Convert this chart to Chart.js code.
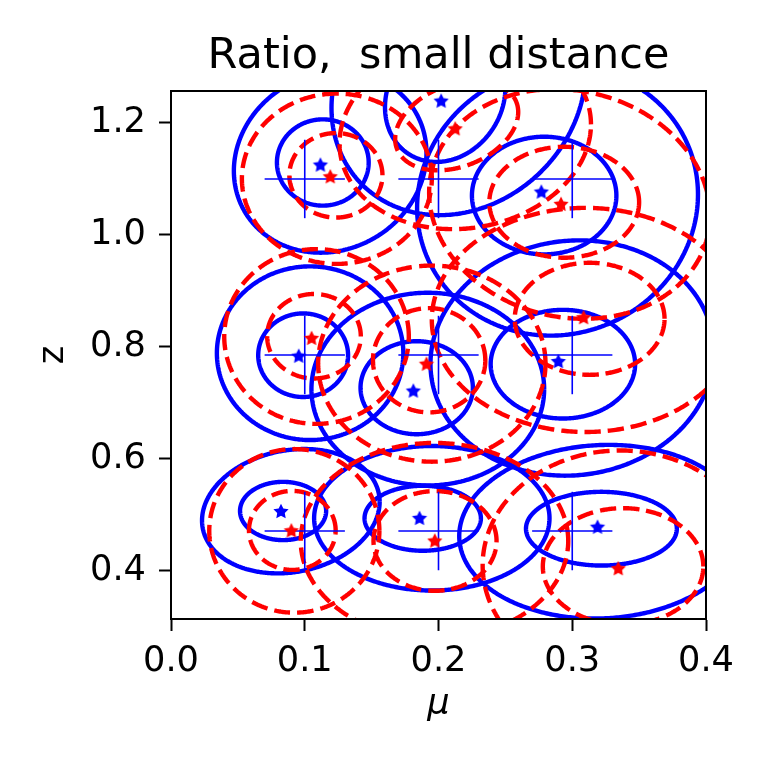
<!DOCTYPE html>
<html><head><meta charset="utf-8">
<script src="https://cdn.jsdelivr.net/npm/chart.js@4.4.1/dist/chart.umd.min.js"></script>
<style>html,body{margin:0;padding:0;background:#fff;} canvas{display:block;}</style>
</head><body>
<canvas id="c" width="773" height="773"></canvas>
<script>
// ---- data ----
const titleText = 'Ratio,  small distance';
const xLabel = 'μ';
const yLabel = 'z';
const xTicks = [0.0, 0.1, 0.2, 0.3, 0.4];
const xTickLabels = ['0.0', '0.1', '0.2', '0.3', '0.4'];
const yTicks = [0.4, 0.6, 0.8, 1.0, 1.2];
const yTickLabels = ['0.4', '0.6', '0.8', '1.0', '1.2'];
const xRange = [0.0, 0.4];
const yRange = [0.3142, 1.2566];

// true parameter values (crosshairs), order: top row L->R, middle row, bottom row
const muTrue = [0.1, 0.2, 0.3, 0.1, 0.2, 0.3, 0.1, 0.2, 0.3];
const zTrue  = [1.0996, 1.0996, 1.0996, 0.7854, 0.7854, 0.7854, 0.4712, 0.4712, 0.4712];
const crossHalfMu = [0.03, 0.03, 0.03, 0.03, 0.03, 0.03, 0.03, 0.03, 0.03];
const crossHalfZ  = [0.07, 0.07, 0.07, 0.07, 0.07, 0.07, 0.07, 0.07, 0.07];

// estimates (stars)
const blueStarMu = [0.1117, 0.2020, 0.2769, 0.0955, 0.1812, 0.2896, 0.0822, 0.1858, 0.3189];
const blueStarZ  = [1.1254, 1.2395, 1.0772, 0.7842, 0.7220, 0.7746, 0.5070, 0.4947, 0.4790];
const redStarMu  = [0.1191, 0.2125, 0.2916, 0.1051, 0.1910, 0.3085, 0.0900, 0.1972, 0.3344];
const redStarZ   = [1.1044, 1.1900, 1.0553, 0.8160, 0.7700, 0.8530, 0.4725, 0.4544, 0.4050];

// contour ellipses: centre (mu, z), half extent along mu, half extent along z, tilt
const blueInMu  = [0.1135, 0.205, 0.279, 0.0988, 0.1837, 0.293, 0.0838, 0.1882, 0.3218];
const blueInZ   = [1.129, 1.245, 1.070, 0.785, 0.727, 0.769, 0.507, 0.494, 0.4754];
const blueInSMu = [0.0343, 0.045, 0.054, 0.0336, 0.042, 0.054, 0.0322, 0.0435, 0.0564];
const blueInSZ  = [0.077, 0.115, 0.105, 0.0746, 0.083, 0.097, 0.052, 0.058, 0.0658];
const blueInRho = [0, 0.15, 0, 0, 0, 0, 0, 0, 0];

const blueOutMu  = [0.119, 0.215, 0.289, 0.104, 0.192, 0.300, 0.0896, 0.195, 0.322];
const blueOutZ   = [1.13, 1.26, 1.06, 0.7886, 0.7245, 0.780, 0.5066, 0.494, 0.47];
const blueOutSMu = [0.072, 0.095, 0.105, 0.0697, 0.087, 0.106, 0.0664, 0.088, 0.1065];
const blueOutSZ  = [0.162, 0.225, 0.24, 0.155, 0.172, 0.21, 0.111, 0.129, 0.155];
const blueOutRho = [0.1, 0.15, 0.05, 0, 0, 0.05, 0.15, 0, 0.05];

const redInMu  = [0.1233, 0.2136, 0.294, 0.1069, 0.193, 0.313, 0.0907, 0.1974, 0.338];
const redInZ   = [1.1061, 1.195, 1.058, 0.8189, 0.776, 0.850, 0.4723, 0.4535, 0.408];
const redInSMu = [0.0348, 0.046, 0.056, 0.035, 0.042, 0.056, 0.0324, 0.046, 0.060];
const redInSZ  = [0.0754, 0.08, 0.099, 0.0754, 0.093, 0.100, 0.0705, 0.089, 0.104];
const redInRho = [0, 0.3, 0, 0, 0, 0, 0, 0, 0];

const redOutMu  = [0.124, 0.220, 0.298, 0.1088, 0.195, 0.310, 0.0922, 0.197, 0.336];
const redOutZ   = [1.10, 1.18, 1.055, 0.8184, 0.770, 0.848, 0.4715, 0.4535, 0.41];
const redOutSMu = [0.071, 0.094, 0.105, 0.069, 0.085, 0.115, 0.0636, 0.1, 0.103];
const redOutSZ  = [0.152, 0.17, 0.205, 0.156, 0.175, 0.200, 0.146, 0.175, 0.205];
const redOutRho = [0, 0.1, -0.1, 0, 0, 0, 0, 0, 0];

// ---- helpers ----
const BLUE = '#0000ff', RED = '#ff0000';
const LW = 4.4, DASH = [16.3, 7.0];
function ellipsePts(cx, cz, sx, sz, rho) {
  const N = 240, s = Math.sqrt(1 - rho * rho), pts = [];
  for (let i = 0; i <= N; i++) {
    const t = 2 * Math.PI * i / N;
    pts.push({x: cx + sx * Math.cos(t), y: cz + sz * (rho * Math.cos(t) + s * Math.sin(t))});
  }
  return pts;
}
function makeStar(color, R) {
  const c = document.createElement('canvas');
  const size = Math.ceil(2 * R + 2);
  c.width = size; c.height = size;
  const g = c.getContext('2d');
  g.fillStyle = color;
  g.beginPath();
  const r = R * 0.5;
  for (let k = 0; k < 10; k++) {
    const a = -Math.PI / 2 + k * Math.PI / 5;
    const rr = (k % 2 === 0) ? R : r;
    const px = size / 2 + rr * Math.cos(a), py = size / 2 + 0.8 + rr * Math.sin(a);
    if (k === 0) g.moveTo(px, py); else g.lineTo(px, py);
  }
  g.closePath(); g.fill();
  return c;
}
const blueStar = makeStar(BLUE, 8);
const redStar = makeStar(RED, 8);

function lineDs(data, color, width, dash) {
  return {data, showLine: true, borderColor: color, borderWidth: width, borderDash: dash || [],
          borderJoinStyle: 'round', tension: 0.0001,
          pointRadius: 0, pointHoverRadius: 0, fill: false, clip: 0};
}

// drawing order (first = bottom)
const drawList = [];
for (let i = 0; i < muTrue.length; i++) {
  drawList.push(lineDs(ellipsePts(blueInMu[i], blueInZ[i], blueInSMu[i], blueInSZ[i], blueInRho[i]), BLUE, LW));
  drawList.push(lineDs(ellipsePts(blueOutMu[i], blueOutZ[i], blueOutSMu[i], blueOutSZ[i], blueOutRho[i]), BLUE, LW));
}
for (let i = 0; i < muTrue.length; i++) {
  drawList.push(lineDs(ellipsePts(redInMu[i], redInZ[i], redInSMu[i], redInSZ[i], redInRho[i]), RED, LW, DASH));
  drawList.push(lineDs(ellipsePts(redOutMu[i], redOutZ[i], redOutSMu[i], redOutSZ[i], redOutRho[i]), RED, LW, DASH));
}
for (let i = 0; i < muTrue.length; i++) {
  drawList.push(lineDs([{x: muTrue[i] - crossHalfMu[i], y: zTrue[i]}, {x: muTrue[i] + crossHalfMu[i], y: zTrue[i]}], BLUE, 1.6));
  drawList.push(lineDs([{x: muTrue[i], y: zTrue[i] - crossHalfZ[i]}, {x: muTrue[i], y: zTrue[i] + crossHalfZ[i]}], BLUE, 1.6));
}
drawList.push({data: blueStarMu.map((m, i) => ({x: m, y: blueStarZ[i]})), showLine: false,
  pointStyle: blueStar, pointRadius: 7, pointHoverRadius: 7, clip: 0});
drawList.push({data: redStarMu.map((m, i) => ({x: m, y: redStarZ[i]})), showLine: false,
  pointStyle: redStar, pointRadius: 7, pointHoverRadius: 7, clip: 0});
// Chart.js draws the first dataset on top, so reverse
const datasets = drawList.slice().reverse();

const frame = {
  id: 'frame',
  afterDraw(chart) {
    const {ctx, chartArea: a} = chart;
    ctx.save();
    ctx.strokeStyle = '#000'; ctx.lineWidth = 2;
    ctx.strokeRect(a.left, a.top, a.right - a.left, a.bottom - a.top);
    ctx.restore();
  }
};

const tickFont = {family: 'DejaVu Sans', size: 35.2};
new Chart(document.getElementById('c'), {
  type: 'scatter',
  data: {datasets},
  plugins: [frame],
  options: {
    responsive: false, animation: false, devicePixelRatio: 1,
    events: [],
    layout: {padding: {left: 0, right: 67, top: 0, bottom: 0}},
    plugins: {
      legend: {display: false}, tooltip: {enabled: false},
      title: {display: true, text: titleText, color: '#000', fullSize: false,
              font: {family: 'DejaVu Sans', size: 43, weight: 'normal'},
              padding: {top: 31, bottom: 8.4}}
    },
    scales: {
      x: {
        type: 'linear', min: xRange[0], max: xRange[1],
        afterBuildTicks: s => { s.ticks = xTicks.map(v => ({value: v})); },
        afterFit: s => { s.height = 154; },
        ticks: {color: '#000', font: tickFont, padding: 10, maxRotation: 0,
                callback: (v, i) => xTickLabels[i]},
        grid: {drawOnChartArea: false, drawTicks: true, tickLength: 12, tickWidth: 2, tickColor: '#000'},
        border: {display: true, color: '#000', width: 2},
        title: {display: true, text: xLabel, color: '#000',
                font: {family: 'DejaVu Sans', size: 35.2, style: 'italic'}, padding: {top: 0, bottom: 47}}
      },
      y: {
        type: 'linear', min: yRange[0], max: yRange[1],
        afterBuildTicks: s => { s.ticks = yTicks.map(v => ({value: v})); },
        afterFit: s => { s.width = 171; },
        ticks: {color: '#000', font: tickFont, padding: 13,
                callback: (v, i) => yTickLabels[i]},
        grid: {drawOnChartArea: false, drawTicks: true, tickLength: 12, tickWidth: 2, tickColor: '#000'},
        border: {display: true, color: '#000', width: 2},
        title: {display: true, text: yLabel, color: '#000',
                font: {family: 'DejaVu Sans', size: 35.2}, padding: {top: 33, bottom: 0}}
      }
    }
  }
});
</script>
</body></html>
